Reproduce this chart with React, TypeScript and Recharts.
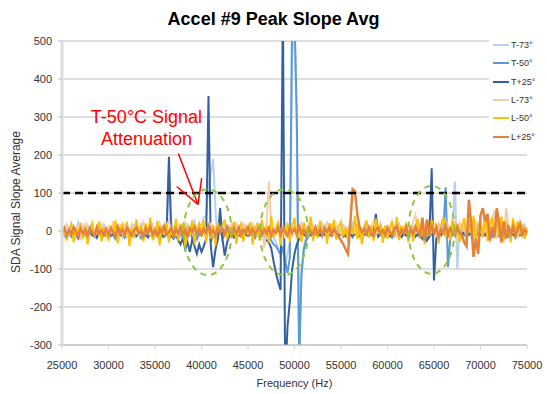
import { LineChart, Line, XAxis, YAxis, CartesianGrid, ReferenceLine, ReferenceDot } from "recharts";

// frequency grid (Hz), 250 Hz steps
const FREQ = Array.from({ length: 201 }, (_, i) => 25000 + i * 250);
const X_TICKS = [25000, 30000, 35000, 40000, 45000, 50000, 55000, 60000, 65000, 70000, 75000];
const Y_TICKS = [-300, -200, -100, 0, 100, 200, 300, 400, 500];

const T_M73 = [
  5, -12, 18, -6, 10, -15, 3, 22, -8, 12,
  -10, 15, -4, 8, -18, 6, 14, -9, 20, -3,
  9, -14, 4, 17, -7, 11, -16, 2, 13, -5,
  16, -8, 7, -13, 21, -2, 10, -11, 5, 18,
  -6, 12, -10, 8, 15, -4, 170, 30, -15, 10,
  8, -12, 14, -5, 20, -9, 6, 25, -3, 12,
  18, 35, 40, 120, 150, 190, 60, -30, 25, -20,
  10, -8, 15, -12, 6, 19, -4, 9, -15, 13,
  -7, 16, 3, -11, 22, -5, 8, -14, 12, 4,
  5, -15, -30, -45, -70, -40, -90, -60, -30, 450,
  580, 250, -300, -120, -40, -15, 10, -8, 14, -5,
  12, -9, 17, -4, 8, -13, 20, -6, 11, -10,
  7, 15, -11, 9, -6, 18, -3, 12, -14, 5,
  -8, 13, 4, -10, 16, -5, 9, 21, -12, 6,
  14, -7, 10, -13, 5, 19, -9, 8, -4, 15,
  -10, 12, -6, 18, 3, -14, 9, 25, -8, 11,
  7, -12, 15, -5, 20, -9, 12, -15, 4, 130,
  -100, 10, -20, 14, -8, 22, -12, 6, 18, -10,
  15, -6, 24, -14, 9, 30, -11, 16, -18, 12,
  -9, 20, 5, -16, 14, -4, 22, -12, 8, 17,
  -5,
];

const T_M50 = [
  -12, -4, -18, -7, -15, 2, -10, -20, -6, -13,
  -9, -17, -3, -12, -8, -19, -5, -14, -10, -2,
  -16, -7, -11, -21, -4, -13, -9, -18, -6, -12,
  -3, -15, -10, -8, -19, -6, -14, -11, -4, -17,
  -8, -13, -5, -16, -10, -7, -20, -12, -4, -15,
  -11, -6, -18, -9, -14, -3, -17, -10, -22, -8,
  -12, 5, -15, 20, -30, -10, 10, -25, 37, -20,
  -10, -4, -14, -7, -18, -9, -12, -3, -16, -8,
  -13, -6, -10, -19, -5, -15, -8, -22, -11, -17,
  -25, -35, -40, -50, -60, -45, -80, -110, -70, 600,
  560, 300, -360, -110, -50, -25, -15, -8, -12, -5,
  -14, -7, -11, -3, -16, -9, -13, -6, -18, -10,
  -8, -15, -4, -12, -9, -17, -6, -11, -14, -7,
  -10, -3, -13, -8, -16, -5, -12, -9, -4, -15,
  -7, -12, -18, -6, -10, -14, -3, -11, -8, -16,
  -9, -5, -13, -10, -17, -7, -12, -4, -15, -8,
  -11, -6, -14, -9, -3, 115, -95, -20, -8, -12,
  -6, -13, -9, -4, -15, -10, -7, -12, -17, -5,
  -10, -14, -6, -11, -8, -16, -4, -13, -9, -7,
  -12, -5, -15, -8, -10, -3, -14, -9, -6, -11,
  -8,
];

const T_P25 = [
  -10, -5, -15, -8, 3, -12, -6, -18, -4, -9,
  -7, -14, -3, -11, -6, -16, -2, -10, -8, -13,
  -5, -12, -9, -4, -15, -7, -11, -3, -13, -8,
  -10, -6, -14, -9, -2, -12, -7, -17, -5, -11,
  -8, -13, -6, -10, -15, -4, 195, -12, -20, -9,
  -25, -35, -18, -48, -30, -55, -22, -40, -60, -35,
  -55, -40, -20, 355, -40, -95, -50, -20, 60, -20,
  -65, -30, -12, -8, -15, -5, -10, -14, -6, -9,
  -12, -7, -15, -10, -5, -13, -8, -18, -25, -30,
  -45, -80, -110, -135, -155, 600, -400, -250, -185, -100,
  -60, -35, -20, -12, -8, -15, -6, -10, -14, -5,
  -8, -12, -4, -10, -15, -7, -11, -3, -9, -13,
  -6, -10, -14, -5, -9, -12, -7, -11, -4, -8,
  -10, -6, -13, -8, -3, 45, -15, -9, -12, -5,
  -8, -14, -6, -11, -4, -9, -16, -7, -12, -5,
  -10, -6, -15, -8, -12, -20, 10, -25, -15, 165,
  -130, -20, -8, -12, -5, -10, -14, -6, -9, -11,
  -7, -12, -4, -10, -15, -6, -9, -13, -5, -8,
  -10, -4, -12, -7, -14, -6, -9, -3, -11, -8,
  -6, -13, -8, -4, -10, -15, -7, -11, -5, -9,
  -8,
];

const L_M73 = [
  8, -5, 15, -12, 20, 3, -8, 12, -15, 6,
  18, -10, 5, 22, -6, 10, -14, 16, 2, -9,
  12, -3, 25, -11, 7, 14, -7, 19, -13, 4,
  -6, 17, 9, -15, 11, 24, -4, 8, -10, 15,
  6, -12, 20, 3, -8, 13, 28, -5, 10, -14,
  16, 4, -9, 22, 7, -6, 30, 12, -11, 18,
  5, 26, -8, 14, 20, -12, 9, 17, -4, 11,
  -10, 13, 6, 21, -7, 15, 2, -13, 18, 8,
  12, -6, 19, 4, -11, 16, 9, -45, 20, 130,
  15, -8, 10, 25, -15, 12, -20, 18, 5, -10,
  14, 6, -12, 20, 3, -9, 17, 8, -14, 11,
  5, 19, -7, 13, 22, -4, 9, -11, 16, 2,
  -8, 15, 10, -13, 21, 6, -5, 18, 12, -9,
  17, 3, -10, 14, 25, -6, 11, 20, -12, 8,
  13, -9, 22, 5, -14, 16, 9, -4, 19, 10,
  -7, 24, 42, 12, -11, 18, 6, 30, -9, 15,
  8, -15, 20, 12, -6, 25, 14, -10, 35, 9,
  -12, 22, 6, 18, -25, 30, 10, -35, 24, 15,
  20, -18, 40, 12, -30, 28, 55, -20, 35, 10,
  -32, 60, 18, -15, 25, 8, -20, 30, 12, -6,
  10,
];

const L_M50 = [
  -15, 10, -25, 5, 18, -30, 8, -12, 22, -20,
  12, -35, 6, 20, -18, 3, 25, -28, 9, -10,
  -22, 15, -8, 28, -32, 4, 17, -14, 24, -40,
  7, -19, 30, -6, 13, -27, 20, -11, 35, -24,
  -9, 26, -38, 14, -5, 21, -30, 10, -17, 32,
  -26, 8, 18, -42, 12, -8, 25, -35, 6, 20,
  -14, 28, -30, 11, -20, 16, -38, 22, -7, 14,
  30, -22, 9, -16, 24, -34, 5, 19, -28, 12,
  -11, 23, -36, 8, 17, -25, 29, -9, 13, -31,
  40, -18, 6, 25, -38, 14, -8, 20, -28, 10,
  35, -20, 12, -30, 22, 5, -15, 38, -26, 9,
  -18, 27, -10, 16, -33, 21, -6, 30, -22, 11,
  24, -14, 8, -29, 19, -9, 40, -21, 13, -35,
  7, 28, -17, 12, -26, 33, -8, 18, -31, 15,
  -20, 9, 26, -13, 37, -24, 14, -6, 22, -30,
  16, -27, 11, 31, -19, 6, -35, 24, -12, 29,
  -8, 21, -33, 14, 36, -16, 9, -25, 27, -10,
  19, -29, 12, 34, -18, 25, -7, 40, -22, 15,
  28, -14, 42, -26, 18, 35, -20, 30, -11, 38,
  -24, 22, 10, -30, 33, -16, 26, -9, 17, -20,
  8,
];

const L_P25 = [
  -5, 8, -12, 3, -8, 10, -2, -14, 6, -6,
  4, -10, 7, -4, -13, 9, -7, 2, -11, 5,
  -9, 6, -3, -15, 11, -6, 4, -10, 8, -2,
  -12, 3, 9, -7, -1, -14, 7, -5, 10, -9,
  2, -11, 6, -4, 12, -8, -3, 9, -13, 5,
  -6, 10, -9, 3, -14, 7, -2, 11, -8, 4,
  -10, 5, -4, 13, -7, 2, -12, 8, -5, 6,
  -8, 11, -3, -13, 7, -6, 9, -10, 3, -4,
  10, -7, 5, -11, 2, 12, -9, 4, -6, 8,
  -13, 3, -5, 9, -10, 6, -2, -12, 7, -4,
  5, -9, 12, -6, 3, -11, 8, -3, -8, 10,
  -7, 4, -12, 7, -2, 9, -10, 5, -5, -15,
  -25, -35, -48, -60, 20, 110, 105, 45, 10, -3,
  6, -8, 10, -5, -12, 4, 9, -7, 2, -10,
  8, -3, -11, 6, 12, -9, 3, -6, 10, -13,
  5, -7, 11, -2, -10, 35, -25, 30, -8, 12,
  -6, 9, -14, 4, -3, 15, -10, 7, -5, -12,
  10, -4, -10, -30, -40, 82, 20, -68, -20, -60,
  40, 60, 25, 45, -25, 10, -15, 60, 20, -30,
  25, -20, 15, -8, 12, -14, 6, 18, -10, 4,
  -5,
];

const SERIES = [
  { key: "t73", name: "T-73°", values: T_M73, color: "#B7D1EE", width: 2 },
  { key: "t50", name: "T-50°", values: T_M50, color: "#5B9BD5", width: 2 },
  { key: "t25", name: "T+25°", values: T_P25, color: "#35609F", width: 2 },
  { key: "l73", name: "L-73°", values: L_M73, color: "#F8CBAD", width: 2 },
  { key: "l50", name: "L-50°", values: L_M50, color: "#FFC000", width: 2 },
  { key: "l25", name: "L+25°", values: L_P25, color: "#E3823B", width: 2.5 },
];

// green dashed circles around the attenuated regions: [freq, value, rx, ry]
const ELLIPSES = [
  [40650, -3, 24, 43],
  [48870, -3, 24, 43],
  [64730, 3, 23, 44],
];

// red arrow strokes, [from, to] in data units
const ARROWS = [
  [{ x: 37506, y: 204 }, { x: 39624, y: 70 }],
  [{ x: 37334, y: 117 }, { x: 39624, y: 70 }],
  [{ x: 40022, y: 139 }, { x: 39624, y: 70 }],
];

const data = FREQ.map((f, i) => {
  const row: Record<string, number> = { f };
  SERIES.forEach((s) => {
    row[s.key] = s.values[i];
  });
  return row;
});

const FONT = "'Liberation Sans', Arial, sans-serif";

export default function App() {
  return (
    <div style={{ position: "relative", width: 547, height: 394, background: "#fff", fontFamily: FONT }}>
      <style>{"body{margin:0}"}</style>
      <div
        style={{
          position: "absolute",
          top: 10,
          left: 0,
          width: 547,
          textAlign: "center",
          fontSize: 18,
          lineHeight: "18px",
          fontWeight: "bold",
          color: "#000",
        }}
      >
        Accel #9 Peak Slope Avg
      </div>
      <div
        style={{
          position: "absolute",
          left: 16 - 100,
          top: 202 - 8,
          width: 200,
          height: 16,
          lineHeight: "16px",
          textAlign: "center",
          fontSize: 12,
          color: "#333",
          transform: "rotate(-90deg)",
        }}
      >
        SDA Signal Slope Average
      </div>
      <LineChart width={547} height={394} data={data} margin={{ top: 41, right: 20, left: 0, bottom: 4 }}>
        <CartesianGrid vertical={false} stroke="#BFBFBF" />
        <XAxis
          dataKey="f"
          type="number"
          domain={[25000, 75000]}
          ticks={X_TICKS}
          interval={0}
          height={45}
          tick={{ fill: "#333", fontSize: 11, fontFamily: FONT }}
          tickSize={4}
          tickMargin={12}
          tickLine={{ stroke: "#D0D0D0" }}
          axisLine={{ stroke: "#BFBFBF" }}
          label={{ value: "Frequency (Hz)", position: "insideBottom", offset: 3, fill: "#333", fontSize: 11, fontFamily: FONT }}
        />
        <YAxis
          type="number"
          domain={[-300, 500]}
          ticks={Y_TICKS}
          allowDataOverflow
          width={62}
          tick={{ fill: "#333", fontSize: 11, fontFamily: FONT }}
          tickSize={4}
          tickMargin={6}
          tickLine={{ stroke: "#BFBFBF" }}
          axisLine={{ stroke: "#DCDCDC", strokeWidth: 3 }}
        />
        {SERIES.map((s) => (
          <Line
            key={s.key}
            type="linear"
            dataKey={s.key}
            name={s.name}
            stroke={s.color}
            strokeWidth={s.width}
            dot={false}
            activeDot={false}
            isAnimationActive={false}
          />
        ))}
        <ReferenceLine y={100} stroke="#000" strokeWidth={2.5} strokeDasharray="8 5" />
        {ELLIPSES.map(([x, y, rx, ry], i) => (
          <ReferenceDot
            key={"e" + i}
            x={x}
            y={y}
            shape={(p: any) => (
              <ellipse
                cx={p.cx}
                cy={p.cy}
                rx={rx}
                ry={ry}
                fill="none"
                stroke="#8DC63F"
                strokeWidth={2}
                strokeDasharray="6 5"
              />
            )}
          />
        ))}
        {ARROWS.map((seg, i) => (
          <ReferenceLine key={"a" + i} segment={seg} stroke="#FF0000" strokeWidth={1.5} />
        ))}
        <ReferenceDot
          x={34086}
          y={283}
          shape={(p: any) => (
            <text x={p.cx} y={p.cy} textAnchor="middle" fill="#FF0000" fontSize={18} fontFamily={FONT}>
              <tspan x={p.cx}>T-50°C Signal</tspan>
              <tspan x={p.cx} dy={22}>
                Attenuation
              </tspan>
            </text>
          )}
        />
      </LineChart>
      <div
        style={{
          position: "absolute",
          left: 489,
          top: 36,
          width: 58,
          height: 110,
          background: "#fff",
        }}
      >
        {SERIES.map((s, i) => (
          <div
            key={s.key}
            style={{
              position: "absolute",
              left: 4,
              top: 9 + i * 18.3 - 6,
              height: 12,
              display: "flex",
              alignItems: "center",
              fontSize: 9,
              color: "#333",
            }}
          >
            <span style={{ display: "inline-block", width: 16, height: 2, background: s.color, marginRight: 2 }} />
            {s.name}
          </div>
        ))}
      </div>
    </div>
  );
}
